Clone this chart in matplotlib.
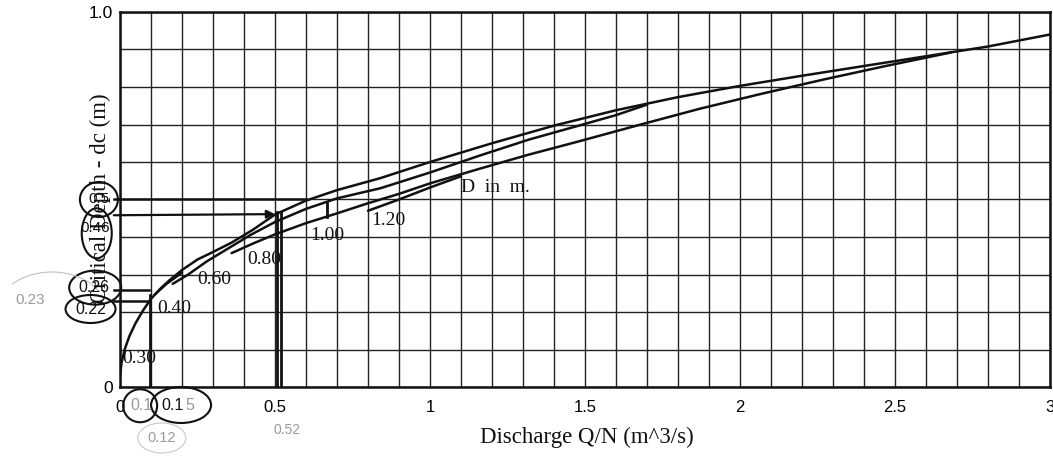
import matplotlib
matplotlib.use("Agg")
import matplotlib.pyplot as plt
from matplotlib.patches import Ellipse, Arc

# ---- data ----
# envelope curve starting at the origin (D = 0.30)
q_top = [0, 0.005, 0.015, 0.03, 0.05, 0.075, 0.10, 0.13, 0.16, 0.20, 0.25, 0.30, 0.36, 0.43,
         0.50, 0.60, 0.70, 0.84, 1.00, 1.20, 1.40, 1.60, 1.80, 2.00, 2.20, 2.40, 2.60, 2.80, 3.00]
d_top = [0.03, 0.065, 0.10, 0.135, 0.17, 0.205, 0.235, 0.262, 0.285, 0.312, 0.34, 0.36, 0.385, 0.42,
         0.46, 0.497, 0.525, 0.557, 0.60, 0.65, 0.697, 0.738, 0.773, 0.803, 0.83, 0.856, 0.882, 0.908, 0.94]
# curve starting at D = 0.60
q_060 = [0.17, 0.22, 0.28, 0.35, 0.42, 0.50, 0.60, 0.70, 0.84, 1.00, 1.16, 1.32, 1.48, 1.60, 1.70]
d_060 = [0.275, 0.30, 0.335, 0.37, 0.405, 0.44, 0.475, 0.503, 0.53, 0.572, 0.617, 0.66, 0.697, 0.725, 0.753]
# curve starting at D = 0.80
q_080 = [0.36, 0.43, 0.50, 0.60, 0.70, 0.80, 0.90, 1.00, 1.16, 1.32, 1.48, 1.68, 1.87, 2.07, 2.27, 2.47, 2.68]
d_080 = [0.357, 0.383, 0.407, 0.437, 0.463, 0.49, 0.515, 0.543, 0.582, 0.62, 0.655, 0.70, 0.742, 0.782, 0.82, 0.856, 0.892]
# short branch starting at D = 0.40
q_040 = [0.11, 0.15, 0.20]
d_040 = [0.245, 0.275, 0.305]
# short branch starting at D = 1.20
q_120 = [0.80, 0.90, 1.00, 1.10]
d_120 = [0.47, 0.50, 0.532, 0.562]

d_labels = ["0.30", "0.40", "0.60", "0.80", "1.00", "1.20"]
d_label_q = [0.008, 0.12, 0.25, 0.41, 0.613, 0.81]
d_label_dc = [0.077, 0.21, 0.288, 0.341, 0.405, 0.445]

x_ticks = [0, 0.5, 1, 1.5, 2, 2.5, 3]
x_tick_labels = ["0", "0.5", "1", "1.5", "2", "2.5", "3"]
y_ticks = [0, 1.0]
y_tick_labels = ["0", "1.0"]

# handwritten reading lines
hand_h = [0.50, 0.26, 0.23]
hand_h_end = [0.60, 0.095, 0.095]
hand_arrow_y = 0.458
hand_arrow_end = 0.50
hand_v = [0.097, 0.505, 0.52, 0.667]
hand_v_bot = [0, 0, 0, 0.453]
hand_v_top = [0.245, 0.467, 0.467, 0.49]

# ---- figure ----
W, H = 1053, 457
fig = plt.figure(figsize=(W / 100, H / 100), dpi=100)
L, R, B, T = 120, 1050, 387, 12
ax = fig.add_axes([L / W, 1 - B / H, (R - L) / W, (B - T) / H])
ax.set_xlim(0, 3)
ax.set_ylim(0, 1.0)

sans = "Liberation Sans"
serif = "Liberation Serif"
ink = "#111111"
pencil = "#9a9a9a"

ax.set_xticks(x_ticks)
ax.set_xticklabels(x_tick_labels, fontfamily=sans, fontsize=12)
ax.set_yticks(y_ticks)
ax.set_yticklabels(y_tick_labels, fontfamily=sans, fontsize=12.5)
ax.set_xticks([i / 10 for i in range(31)], minor=True)
ax.set_yticks([i / 10 for i in range(11)], minor=True)
ax.tick_params(which="both", length=0)
ax.tick_params(axis="x", pad=9)
ax.tick_params(axis="y", pad=5)
ax.grid(which="both", color="#222222", linewidth=1.0)
ax.set_axisbelow(True)
for s in ax.spines.values():
    s.set_linewidth(1.8)
    s.set_color(ink)

lw = 1.8
for q, d in [(q_top, d_top), (q_060, d_060), (q_080, d_080), (q_040, d_040), (q_120, d_120)]:
    ax.plot(q, d, color=ink, linewidth=lw, solid_capstyle="round", solid_joinstyle="round")

for t, q, d in zip(d_labels, d_label_q, d_label_dc):
    ax.text(q, d, t, fontfamily=serif, fontsize=14, ha="left", va="center", color=ink)
ax.text(1.10, 0.533, "D  in  m.", fontfamily=serif, fontsize=14, ha="left",
        va="center", color=ink)

# handwritten lines
for y, xe in zip(hand_h, hand_h_end):
    ax.plot([-0.02, xe], [y, y], color=ink, linewidth=1.8, clip_on=False)
ax.annotate("", xy=(hand_arrow_end, hand_arrow_y + 0.003), xytext=(-0.02, hand_arrow_y),
            arrowprops=dict(arrowstyle="-|>", color=ink, lw=1.6, mutation_scale=12,
                            shrinkA=0, shrinkB=0), annotation_clip=False)
for x, yb, yt in zip(hand_v, hand_v_bot, hand_v_top):
    ax.plot([x, x], [yb, yt], color=ink, linewidth=2.0)

# handwritten circled values
def circ(q, d, wpx, hpx, color=ink, lw=1.5):
    e = Ellipse((q, d), wpx / 310, hpx / 375, fill=False, edgecolor=color,
                linewidth=lw, clip_on=False, transform=ax.transData)
    ax.add_patch(e)

ax.text(-0.068, 0.50, "0.5", fontfamily=sans, fontsize=11, ha="center", va="center", color=ink, clip_on=False)
circ(-0.068, 0.50, 38, 35)
ax.text(-0.08, 0.425, "0.46", fontfamily=sans, fontsize=11, ha="center", va="center", color=ink, clip_on=False)
circ(-0.075, 0.41, 30, 50)
ax.text(-0.085, 0.264, "0.26", fontfamily=sans, fontsize=11.5, ha="center", va="center", color=ink, clip_on=False)
circ(-0.08, 0.265, 52, 34)
ax.text(-0.095, 0.208, "0.22", fontfamily=sans, fontsize=11.5, ha="center", va="center", color=ink, clip_on=False)
circ(-0.095, 0.208, 50, 28)
ax.text(-0.29, 0.232, "0.23", fontfamily=sans, fontsize=11, ha="center", va="center", color=pencil, clip_on=False)
ax.add_patch(Arc((-0.22, 0.20), 110 / 310, 80 / 375, theta1=20, theta2=150,
                 edgecolor="#c0c0c0", linewidth=0.8, clip_on=False))

ax.text(0.068, -0.05, "0.1", fontfamily=sans, fontsize=11.5, ha="center", va="center", color=pencil, clip_on=False)
circ(0.065, -0.05, 34, 33)
ax.text(0.205, -0.048, "0.1", fontfamily=sans, fontsize=11.5, ha="right", va="center", color=ink, clip_on=False)
ax.text(0.21, -0.048, "5", fontfamily=sans, fontsize=11.5, ha="left", va="center", color=pencil, clip_on=False)
circ(0.197, -0.048, 60, 36)
ax.text(0.135, -0.136, "0.12", fontfamily=sans, fontsize=10.5, ha="center", va="center", color=pencil, clip_on=False)
circ(0.135, -0.136, 48, 30, color="#c8c8c8", lw=0.8)
ax.text(0.54, -0.115, "0.52", fontfamily=sans, fontsize=10, ha="center", va="center", color=pencil, clip_on=False)

# axis titles
fig.text(587 / W, 1 - 437 / H, "Discharge Q/N (m^3/s)", fontfamily=serif,
         fontsize=16.5, ha="center", va="center", color=ink)
fig.text(100 / W, 1 - 198 / H, "Critical Depth - dc (m)", fontfamily=serif,
         fontsize=16.5, ha="center", va="center", rotation=90, color=ink)

fig.savefig("out.png", dpi=100, facecolor="white")
